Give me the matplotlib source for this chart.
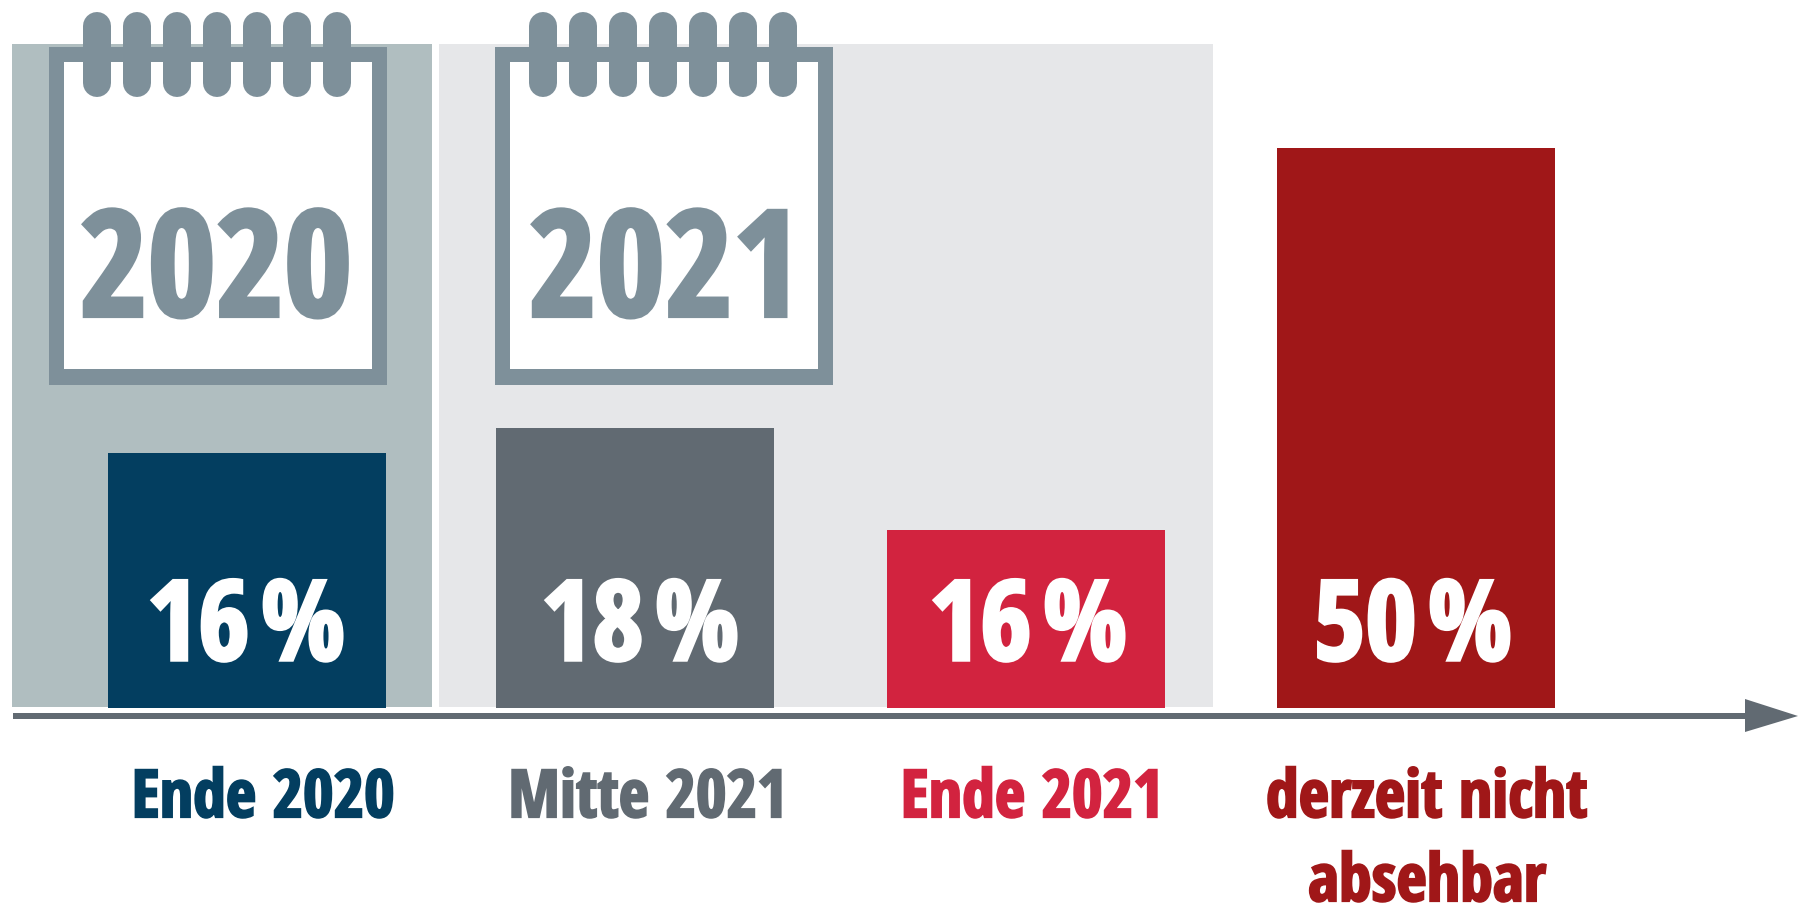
import matplotlib
matplotlib.use('Agg')
import matplotlib.pyplot as plt
import matplotlib.patheffects as pe
from matplotlib.patches import Rectangle

# bars: heights as drawn in the picture, they do not scale with the percent labels
labels = ['Ende 2020', 'Mitte 2021', 'Ende 2021', 'derzeit nicht\nabsehbar']
percent = ['16\u200a%', '18\u200a%', '16\u200a%', '50\u200a%']
bar_heights = [255, 280, 178, 560]
bar_colors = ['#033e60', '#616a72', '#d2233f', '#a01718']
years = ['2020', '2021']

bar_left = [108, 496, 887, 1277]
bar_width = 278
base = 708
label_x = [263, 648, 1032, 1427]
value_x = [246, 640, 1028, 1413]
year_x = [216, 665]
cal_left = [49, 495]
band_left = [12, 439]
band_right = [432, 1213]
band_colors = ['#b0bec0', '#e6e7e9']
cal_color = '#7e909a'
axis_color = '#616a72'

font = ['Open Sans Condensed', 'Liberation Sans Narrow', 'Noto Sans']

fig = plt.figure(figsize=(17.98, 9.05), dpi=100)
ax = fig.add_axes([0, 0, 1, 1])
ax.set_xlim(0, 1798)
ax.set_ylim(905, 0)
ax.axis('off')


def fat(lw, color):
    # the font is a bit lighter than the reference, thicken the strokes
    return [pe.withStroke(linewidth=lw, foreground=color, joinstyle='miter')]


for i in range(2):
    ax.add_patch(Rectangle((band_left[i], 44), band_right[i]-band_left[i], 663, fc=band_colors[i], lw=0))

# calendars
for i in range(2):
    x0 = cal_left[i]
    ax.add_patch(Rectangle((x0, 47), 338, 338, fc=cal_color, lw=0))
    ax.add_patch(Rectangle((x0+15, 62), 308, 307, fc='white', lw=0))
    for j in range(7):
        xr = x0+48+j*40
        ax.plot([xr, xr], [26, 83], color=cal_color, lw=28*0.72, solid_capstyle='round')
    ax.text(year_x[i], 316, years[i], family=font, weight='bold', fontsize=106,
            color=cal_color, ha='center', va='baseline', path_effects=fat(3, cal_color))

ax.bar(bar_left, bar_heights, width=bar_width, bottom=[base-h for h in bar_heights],
       align='edge', color=bar_colors, lw=0)

for i in range(4):
    ax.text(value_x[i], 660, percent[i], family=font, weight='bold', fontsize=80,
            color='white', ha='center', va='baseline', path_effects=fat(2.5, 'white'))
    lines = labels[i].split('\n')
    for j in range(len(lines)):
        ax.text(label_x[i], 817+j*84, lines[j], family=font, weight='bold', fontsize=47.5,
                color=bar_colors[i], ha='center', va='baseline', path_effects=fat(1.6, bar_colors[i]))

# time axis with arrow head
ax.plot([13, 1750], [716, 716], color=axis_color, lw=6*0.72, solid_capstyle='butt')
ax.fill([1745, 1798, 1745], [699, 716, 732], color=axis_color, lw=0)

fig.savefig('out.png', dpi=100)
